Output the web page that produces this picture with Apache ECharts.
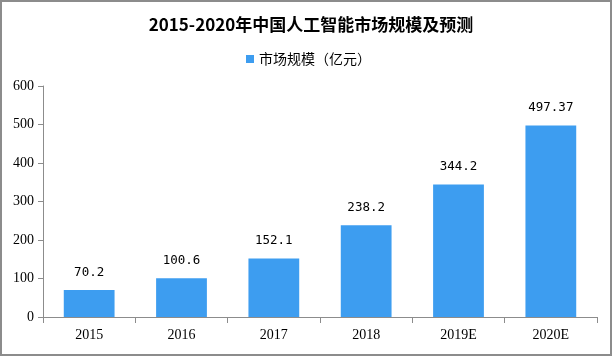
<!DOCTYPE html>
<html><head><meta charset="utf-8">
<script src="https://cdn.jsdelivr.net/npm/echarts@6/dist/echarts.min.js"></script>
<style>html,body{margin:0;padding:0;background:#fff}#c{width:612px;height:356px;box-sizing:border-box;border:2px solid #8c8c8c}</style>
</head><body><div id="c"></div>
<script>
var categories = ['2015','2016','2017','2018','2019E','2020E'];
var values = [70.2, 100.6, 152.1, 238.2, 344.2, 497.37];
var seriesName = '市场规模（亿元）';
var titleText = '2015-2020年中国人工智能市场规模及预测';
var chart = echarts.init(document.getElementById('c'));
chart.setOption({
  animation: false,
  title: {text: titleText, left: 304, textAlign: 'center', top: 9,
    textStyle: {fontSize: 17, fontWeight: 'bold', color: '#000', fontFamily: 'Noto Sans CJK SC'}},
  legend: {data: [seriesName], left: 239, top: 45, itemWidth: 8, itemHeight: 8, itemGap: 6, icon: 'rect',
    textStyle: {fontSize: 14, color: '#000', fontFamily: 'Noto Sans CJK SC'}},
  grid: {left: 41, right: 13, top: 84, bottom: 37},
  xAxis: {type: 'category', data: categories,
    axisLine: {lineStyle: {color: '#8c8c8c'}},
    axisTick: {show: true, alignWithLabel: false, length: 6, lineStyle: {color: '#8c8c8c'}},
    axisLabel: {color: '#000', fontSize: 14, margin: 11, fontFamily: 'Liberation Serif'}},
  yAxis: {type: 'value', min: 0, max: 600, interval: 100,
    axisLine: {show: true, lineStyle: {color: '#8c8c8c'}},
    axisTick: {show: true, length: 5, lineStyle: {color: '#8c8c8c'}},
    splitLine: {show: false},
    axisLabel: {color: '#000', fontSize: 14, margin: 9, fontFamily: 'Liberation Serif'}},
  series: [{name: seriesName, type: 'bar', data: values, barWidth: '55%',
    itemStyle: {color: '#3d9df0'},
    label: {show: true, position: 'top', distance: 11, color: '#000', fontSize: 12.5, fontFamily: 'DejaVu Sans Mono'}}]
});
</script></body></html>
